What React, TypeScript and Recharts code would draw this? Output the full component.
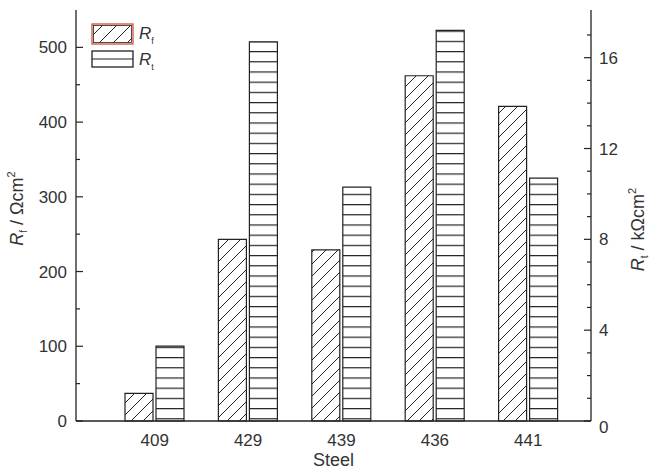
import React from "react";
import { BarChart, Bar, XAxis, YAxis, Legend } from "recharts";

// values
const steels = ["409", "429", "439", "436", "441"];
const rfValues = [37, 243, 229, 462, 421]; // Ωcm²
const rtValues = [3.3, 16.7, 10.3, 17.2, 10.7]; // kΩcm²

const leftTicks = [0, 50, 100, 150, 200, 250, 300, 350, 400, 450, 500];
const leftMajor = [0, 100, 200, 300, 400, 500];
const rightTicks = [0, 1, 2, 3, 4, 5, 6, 7, 8, 9, 10, 11, 12, 13, 14, 15, 16, 17];
const rightMajor = [0, 4, 8, 12, 16];

const data = steels.map((steel, i) => ({ steel, rf: rfValues[i], rt: rtValues[i] }));

const INK = "#222";
const TXT = "#333";
const FONT = "'Liberation Sans', Arial, sans-serif";

const LeftTick = ({ x, y, payload }: any) => {
  const v = payload.value;
  const major = leftMajor.includes(v);
  return (
    <g>
      <line x1={x} x2={x + (major ? 7 : 4)} y1={y} y2={y} stroke={INK} strokeWidth={1.2} />
      {major && (
        <text x={x - 9} y={y} dy="0.36em" textAnchor="end" fontSize={17} fill={TXT} fontFamily={FONT}>
          {v}
        </text>
      )}
    </g>
  );
};

const RightTick = ({ x, y, payload }: any) => {
  const v = payload.value;
  const major = rightMajor.includes(v);
  return (
    <g>
      <line x1={x - (major ? 7 : 4)} x2={x} y1={y} y2={y} stroke={INK} strokeWidth={1.2} />
      {major && (
        <text x={x + 8} y={y + (v === 0 ? 6 : 0)} dy="0.36em" textAnchor="start" fontSize={17} fill={TXT} fontFamily={FONT}>
          {v}
        </text>
      )}
    </g>
  );
};

const BottomTick = ({ x, y, payload }: any) => (
  <text x={x} y={y + 25} textAnchor="middle" fontSize={17} fill={TXT} fontFamily={FONT}>
    {payload.value}
  </text>
);

const AxisTitle = ({ cx, cy, sub, unit }: { cx: number; cy: number; sub: string; unit: string }) => (
  <text
    x={cx}
    y={cy}
    transform={`rotate(-90, ${cx}, ${cy})`}
    textAnchor="middle"
    fontSize={18}
    fill={TXT}
    fontFamily={FONT}
  >
    <tspan fontStyle="italic">R</tspan>
    <tspan fontSize={10} dy={4}>{sub}</tspan>
    <tspan dy={-4}>{` / ${unit}`}</tspan>
    <tspan fontSize={11} dy={-8}>2</tspan>
  </text>
);

const LegendBox = () => (
  <svg width={90} height={52} style={{ display: "block" }}>
    <defs>
      <pattern id="legDiag" patternUnits="userSpaceOnUse" width={14} height={14}>
        <rect width={14} height={14} fill="#fff" />
        <path d="M-2,16 L16,-2 M-2,2 L2,-2 M12,16 L16,12" stroke={INK} strokeWidth={1} />
      </pattern>
    </defs>
    <rect x={1} y={1} width={41} height={20} fill="#fff" stroke="#d0503c" strokeWidth={1.3} />
    <rect x={2.5} y={2.5} width={38} height={17} fill="url(#legDiag)" stroke={INK} strokeWidth={0.8} />
    <rect x={1} y={28} width={41} height={16} fill="#fff" stroke={INK} strokeWidth={1.3} />
    <line x1={1} x2={42} y1={36} y2={36} stroke={INK} strokeWidth={1.1} />
    <text x={48} y={16} fontSize={17} fill={TXT} fontFamily={FONT}>
      <tspan fontStyle="italic">R</tspan>
      <tspan fontSize={9} dy={5}>f</tspan>
    </text>
    <text x={48} y={42} fontSize={17} fill={TXT} fontFamily={FONT}>
      <tspan fontStyle="italic">R</tspan>
      <tspan fontSize={9} dy={5}>t</tspan>
    </text>
  </svg>
);

export default function App() {
  return (
    <div style={{ position: "absolute", left: 0, top: 0, width: 650, height: 472, background: "#fff" }}>
      <BarChart
        width={650}
        height={472}
        data={data}
        margin={{ top: 10, right: 0, bottom: 0, left: 0 }}
        barGap={3}
        barSize={28}
      >
        <defs>
          <pattern id="hatchDiag" patternUnits="userSpaceOnUse" width={12} height={12}>
            <rect width={12} height={12} fill="#fff" />
            <path d="M-2,14 L14,-2 M-2,2 L2,-2 M10,14 L14,10" stroke={INK} strokeWidth={1} />
          </pattern>
          <pattern id="hatchHoriz" patternUnits="userSpaceOnUse" width={10} height={10.2}>
            <rect width={10} height={10.2} fill="#fff" />
            <rect y={0} width={10} height={1.2} fill={INK} />
          </pattern>
        </defs>
        <XAxis
          dataKey="steel"
          height={51}
          padding={{ left: 32, right: 16 }}
          tickLine={false}
          tickSize={0}
          tickMargin={0}
          axisLine={{ stroke: INK, strokeWidth: 1.3 }}
          tick={<BottomTick />}
          label={{
            content: ({ viewBox }: any) => (
              <text
                x={viewBox.x + viewBox.width / 2}
                y={viewBox.y + 45}
                textAnchor="middle"
                fontSize={18}
                fill={TXT}
                fontFamily={FONT}
              >
                Steel
              </text>
            ),
          }}
        />
        <XAxis
          xAxisId="top"
          dataKey="steel"
          orientation="top"
          height={0}
          tick={false}
          tickLine={false}
          axisLine={{ stroke: INK, strokeWidth: 1.3 }}
        />
        <YAxis
          yAxisId="left"
          width={76}
          domain={[0, 550]}
          ticks={leftTicks}
          interval={0}
          tickLine={false}
          tickSize={0}
          tickMargin={0}
          axisLine={{ stroke: INK, strokeWidth: 1.3 }}
          tick={<LeftTick />}
          label={{
            content: ({ viewBox }: any) => (
              <AxisTitle cx={viewBox.x + 23} cy={viewBox.y + viewBox.height / 2 - 7} sub="f" unit="Ωcm" />
            ),
          }}
        />
        <YAxis
          yAxisId="right"
          orientation="right"
          width={59}
          domain={[0, 18.1]}
          ticks={rightTicks}
          interval={0}
          tickLine={false}
          tickSize={0}
          tickMargin={0}
          axisLine={{ stroke: INK, strokeWidth: 1.3 }}
          tick={<RightTick />}
          label={{
            content: ({ viewBox }: any) => (
              <AxisTitle cx={viewBox.x + 53} cy={viewBox.y + viewBox.height / 2 + 14} sub="t" unit="kΩcm" />
            ),
          }}
        />
        <Legend
          layout="vertical"
          align="center"
          verticalAlign="middle"
          wrapperStyle={{ left: 91, top: 23, width: 90, height: 52 }}
          content={() => <LegendBox />}
        />
        <Bar
          dataKey="rf"
          yAxisId="left"
          fill="url(#hatchDiag)"
          stroke={INK}
          strokeWidth={1.2}
          isAnimationActive={false}
        />
        <Bar
          dataKey="rt"
          yAxisId="right"
          fill="url(#hatchHoriz)"
          stroke={INK}
          strokeWidth={1.2}
          isAnimationActive={false}
        />
      </BarChart>
    </div>
  );
}
